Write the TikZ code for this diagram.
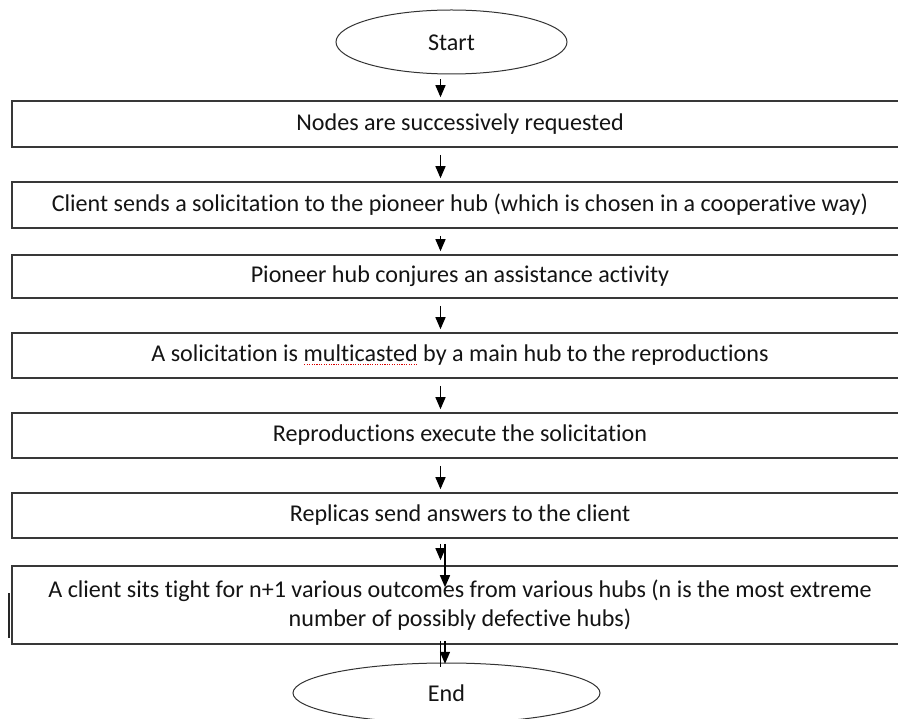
\documentclass[tikz,border=0pt]{standalone}
\usepackage{fontspec}
\setmainfont[RawFeature=-liga]{Carlito}
\usetikzlibrary{arrows.meta,shapes.geometric,calc}
% red dotted spelling underline under a word
\newsavebox{\spellbox}
\newcommand{\spellmark}[1]{\sbox{\spellbox}{#1}%
  \leavevmode\rlap{\raisebox{-0.3ex}{\color{red!85!black}%
    \hbox to \wd\spellbox{\xleaders\hbox to 2.4pt{\hss\rule{1.1pt}{0.9pt}\hss}\hfill}}}#1}
\tikzset{
  txt/.style={font=\fontsize{24.1}{29}\selectfont, text=black!92},
  stepbox/.style={txt, draw=black!78, line width=1.6pt, rectangle, minimum width=896pt,
    inner sep=0pt, align=center},
  term/.style={draw=black!80, line width=1pt, ellipse, inner sep=0pt},
  arr/.style={-{Triangle[length=12pt,width=10pt]}, line width=1.3pt, black, shorten >=3pt}
}
\begin{document}
\begin{tikzpicture}[x=1pt,y=-1pt]
\useasboundingbox (0,0) rectangle (898,719);
\begin{scope}
\clip (0,0) rectangle (898,719);
% terminals
\node[term, minimum width=231pt, minimum height=64pt] (start) at (451.5,42) {};
\node[txt] (starttxt) at (451.5,43) {Start};
\node[term, minimum width=307pt, minimum height=60pt] (end) at (446.5,693) {};
\node[txt] (endtxt) at (446.5,693) {End};
% process boxes
\node[stepbox, minimum height=46pt] (b1) at (460,124) {Nodes are successively requested};
\node[stepbox, minimum height=46pt] (b2) at (460,205) {Client sends a solicitation to the pioneer hub (which is chosen in a cooperative way)};
\node[stepbox, minimum height=43pt] (b3) at (460,276.5) {Pioneer hub conjures an assistance activity};
\node[stepbox, minimum height=45pt] (b4) at (460,355.5) {A solicitation is \spellmark{multicasted} by a main hub to the reproductions};
\node[stepbox, minimum height=45pt] (b5) at (460,435.5) {Reproductions execute the solicitation};
\node[stepbox, minimum height=45pt] (b6) at (460,515.5) {Replicas send answers to the client};
\node[stepbox, minimum height=78pt] (b7) at (460,605) {A client sits tight for n+1 various outcomes from various hubs (n is the most extreme\\number of possibly defective hubs)};
% short bar on the left side of the last box
\draw[line width=2pt, black!85] ($(b7.west)+(-2.5,-12)$) -- ($(b7.west)+(-2.5,33)$);
% connectors (yshift is upward on the page)
\coordinate (ax) at (440.5,0);
\coordinate (bx) at (445,0);
\draw[arr] ([yshift=-5]start.south -| ax) -- (b1.north -| ax);
\draw[arr] ([yshift=-7]b1.south -| ax) -- (b2.north -| ax);
\draw[arr] ([yshift=-7]b2.south -| ax) -- (b3.north -| ax);
\draw[arr] ([yshift=-7]b3.south -| ax) -- (b4.north -| ax);
\draw[arr] ([yshift=-7]b4.south -| ax) -- (b5.north -| ax);
\draw[arr] ([yshift=-7]b5.south -| ax) -- (b6.north -| ax);
\draw[arr] ([yshift=-5]b6.south -| ax) -- ([yshift=2]b7.north -| ax);
\draw[arr] ([yshift=-5]b6.south -| bx) -- ([yshift=-25]b7.north -| bx);
\draw[line width=1.2pt] ([yshift=4]b7.south -| ax) -- ([yshift=-4]end.north -| ax);
\draw[arr] ([yshift=4]b7.south -| bx) -- ([yshift=-22]b7.south -| bx);
\end{scope}
\end{tikzpicture}
\end{document}
